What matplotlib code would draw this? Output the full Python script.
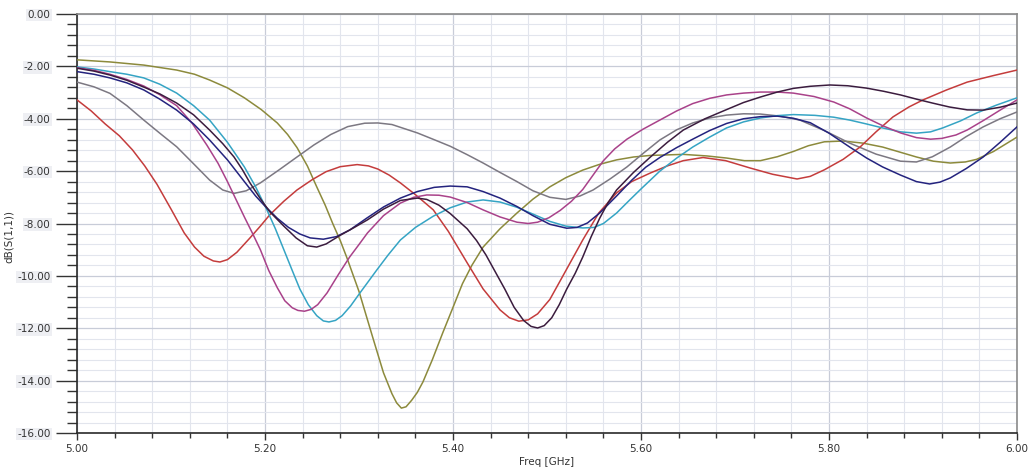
import numpy as np
import matplotlib
matplotlib.use("Agg")
import matplotlib.pyplot as plt
from matplotlib.ticker import MultipleLocator, FormatStrFormatter

plt.rcParams['font.family'] = ['DejaVu Sans']
plt.rcParams['axes.unicode_minus'] = False

# S11 sweeps, frequency in GHz, return loss in dB
red_f = [5.000, 5.015, 5.030, 5.045, 5.059, 5.072, 5.085, 5.100, 5.114, 5.125, 5.135, 5.145, 5.152,
         5.160, 5.170, 5.184, 5.195, 5.205, 5.220, 5.234, 5.250, 5.265, 5.280, 5.298, 5.310, 5.320,
         5.332, 5.344, 5.360, 5.379, 5.395, 5.415, 5.432, 5.450, 5.460, 5.470, 5.480, 5.490, 5.503,
         5.520, 5.538, 5.555, 5.574, 5.590, 5.610, 5.628, 5.645, 5.666, 5.690, 5.716, 5.740, 5.766,
         5.780, 5.795, 5.815, 5.833, 5.850, 5.868, 5.885, 5.900, 5.925, 5.947, 5.975, 6.000]
red_db = [-3.28, -3.7, -4.2, -4.65, -5.19, -5.8, -6.5, -7.45, -8.36, -8.9, -9.25, -9.43, -9.47,
          -9.38, -9.1, -8.55, -8.1, -7.67, -7.15, -6.72, -6.33, -6.02, -5.83, -5.75, -5.8, -5.92,
          -6.15, -6.45, -6.9, -7.48, -8.3, -9.5, -10.5, -11.3, -11.6, -11.73, -11.68, -11.45, -10.9,
          -9.8, -8.63, -7.6, -6.83, -6.4, -6.07, -5.8, -5.6, -5.48, -5.6, -5.88, -6.12, -6.3,
          -6.2, -5.95, -5.55, -5.08, -4.5, -3.93, -3.55, -3.28, -2.9, -2.6, -2.35, -2.14]

gray_f = [5.000, 5.018, 5.035, 5.053, 5.071, 5.088, 5.106, 5.124, 5.141, 5.155, 5.167, 5.180, 5.195,
          5.215, 5.234, 5.252, 5.270, 5.288, 5.306, 5.320, 5.335, 5.362, 5.380, 5.397, 5.415, 5.432,
          5.450, 5.468, 5.485, 5.503, 5.520, 5.535, 5.549, 5.567, 5.585, 5.603, 5.620, 5.638, 5.655,
          5.673, 5.691, 5.709, 5.727, 5.748, 5.769, 5.795, 5.822, 5.850, 5.876, 5.893, 5.910, 5.929,
          5.946, 5.964, 5.982, 6.000]
gray_db = [-2.6, -2.78, -3.03, -3.5, -4.05, -4.55, -5.07, -5.72, -6.34, -6.72, -6.85, -6.75, -6.45,
           -5.95, -5.46, -5.0, -4.6, -4.3, -4.17, -4.16, -4.22, -4.54, -4.8, -5.05, -5.37, -5.69,
           -6.05, -6.4, -6.75, -7.0, -7.08, -6.95, -6.72, -6.3, -5.84, -5.3, -4.81, -4.42, -4.16,
           -3.97, -3.86, -3.81, -3.82, -3.9, -4.05, -4.45, -4.93, -5.35, -5.62, -5.65, -5.45, -5.08,
           -4.68, -4.31, -4.0, -3.74]

olive_f = [5.000, 5.035, 5.071, 5.106, 5.125, 5.141, 5.160, 5.178, 5.196, 5.213, 5.224, 5.234, 5.245,
           5.255, 5.264, 5.272, 5.280, 5.287, 5.300, 5.315, 5.326, 5.335, 5.340, 5.345, 5.350, 5.356,
           5.362, 5.368, 5.378, 5.389, 5.400, 5.410, 5.420, 5.432, 5.450, 5.468, 5.485, 5.503, 5.520,
           5.538, 5.556, 5.574, 5.592, 5.610, 5.645, 5.670, 5.691, 5.710, 5.727, 5.745, 5.762, 5.778,
           5.795, 5.815, 5.836, 5.857, 5.875, 5.893, 5.911, 5.929, 5.945, 5.957, 5.975, 6.000]
olive_db = [-1.75, -1.83, -1.95, -2.14, -2.3, -2.52, -2.82, -3.2, -3.65, -4.16, -4.6, -5.1, -5.8,
            -6.6, -7.3, -8.0, -8.65, -9.3, -10.6, -12.4, -13.7, -14.5, -14.85, -15.05, -15.0, -14.75,
            -14.45, -14.05, -13.2, -12.18, -11.2, -10.3, -9.6, -8.9, -8.2, -7.6, -7.07, -6.6, -6.25,
            -5.96, -5.74, -5.57, -5.46, -5.4, -5.36, -5.42, -5.5, -5.6, -5.6, -5.45, -5.25, -5.03,
            -4.88, -4.85, -4.93, -5.08, -5.27, -5.46, -5.62, -5.69, -5.65, -5.55, -5.25, -4.7]

cyan_f = [5.000, 5.018, 5.035, 5.053, 5.071, 5.088, 5.106, 5.124, 5.141, 5.160, 5.178, 5.190, 5.202,
          5.211, 5.220, 5.229, 5.237, 5.246, 5.255, 5.262, 5.268, 5.275, 5.282, 5.291, 5.301, 5.319,
          5.331, 5.344, 5.360, 5.379, 5.397, 5.415, 5.432, 5.450, 5.468, 5.485, 5.503, 5.520, 5.538,
          5.550, 5.560, 5.574, 5.588, 5.600, 5.620, 5.638, 5.655, 5.673, 5.691, 5.709, 5.727, 5.745,
          5.762, 5.785, 5.805, 5.822, 5.840, 5.857, 5.876, 5.893, 5.908, 5.921, 5.940, 5.957, 5.978,
          6.000]
cyan_db = [-2.02, -2.1, -2.2, -2.3, -2.44, -2.68, -3.02, -3.5, -4.05, -4.9, -5.84, -6.6, -7.48,
           -8.2, -9.0, -9.8, -10.5, -11.1, -11.52, -11.72, -11.76, -11.7, -11.52, -11.15, -10.65, -9.77,
           -9.2, -8.63, -8.15, -7.72, -7.4, -7.18, -7.1, -7.18, -7.38, -7.64, -7.92, -8.1, -8.17,
           -8.15, -8.0, -7.6, -7.1, -6.68, -6.0, -5.5, -5.08, -4.7, -4.35, -4.12, -3.97, -3.88,
           -3.84, -3.87, -3.94, -4.05, -4.2, -4.35, -4.5, -4.55, -4.5, -4.35, -4.08, -3.78, -3.48,
           -3.2]

pink_f = [5.000, 5.018, 5.035, 5.053, 5.071, 5.088, 5.106, 5.122, 5.138, 5.150, 5.160, 5.170, 5.178,
          5.187, 5.195, 5.204, 5.213, 5.221, 5.229, 5.235, 5.242, 5.249, 5.256, 5.266, 5.278, 5.290,
          5.300, 5.309, 5.326, 5.344, 5.358, 5.372, 5.385, 5.397, 5.415, 5.432, 5.450, 5.468, 5.480,
          5.490, 5.502, 5.514, 5.526, 5.538, 5.549, 5.560, 5.572, 5.585, 5.602, 5.620, 5.638, 5.655,
          5.673, 5.691, 5.709, 5.727, 5.745, 5.762, 5.784, 5.805, 5.822, 5.840, 5.858, 5.876, 5.893,
          5.908, 5.920, 5.935, 5.947, 5.965, 5.982, 6.000]
pink_db = [-2.05, -2.15, -2.3, -2.5, -2.75, -3.08, -3.5, -4.15, -5.0, -5.7, -6.4, -7.15, -7.75,
           -8.4, -9.0, -9.8, -10.45, -10.95, -11.22, -11.32, -11.35, -11.28, -11.1, -10.65, -9.95, -9.28,
           -8.8, -8.36, -7.7, -7.22, -7.0, -6.91, -6.92, -6.99, -7.2, -7.48, -7.75, -7.95, -8.0,
           -7.95, -7.78, -7.5, -7.15, -6.7, -6.15, -5.6, -5.15, -4.78, -4.4, -4.05, -3.7, -3.42,
           -3.22, -3.09, -3.02, -2.98, -2.98, -3.02, -3.15, -3.36, -3.62, -3.97, -4.28, -4.54, -4.72,
           -4.78, -4.75, -4.62, -4.43, -4.05, -3.67, -3.28]

navy_f = [5.000, 5.018, 5.035, 5.053, 5.071, 5.088, 5.106, 5.124, 5.141, 5.160, 5.178, 5.190, 5.199,
          5.213, 5.225, 5.237, 5.248, 5.262, 5.276, 5.290, 5.308, 5.326, 5.344, 5.362, 5.380, 5.397,
          5.415, 5.432, 5.450, 5.468, 5.485, 5.503, 5.521, 5.532, 5.543, 5.556, 5.574, 5.590, 5.605,
          5.620, 5.638, 5.655, 5.673, 5.691, 5.709, 5.727, 5.745, 5.762, 5.780, 5.800, 5.822, 5.840,
          5.857, 5.876, 5.893, 5.907, 5.918, 5.929, 5.946, 5.964, 5.982, 6.000]
navy_db = [-2.2, -2.3, -2.44, -2.63, -2.9, -3.25, -3.67, -4.2, -4.81, -5.57, -6.4, -6.95, -7.3,
           -7.8, -8.15, -8.4, -8.55, -8.6, -8.5, -8.25, -7.8, -7.37, -7.03, -6.78, -6.62, -6.57,
           -6.6, -6.78, -7.03, -7.35, -7.7, -8.03, -8.18, -8.15, -7.98, -7.6, -6.95, -6.35, -5.85,
           -5.48, -5.1, -4.78, -4.45, -4.18, -4.0, -3.92, -3.9, -3.98, -4.15, -4.55, -5.08, -5.5,
           -5.84, -6.15, -6.4, -6.49, -6.42, -6.26, -5.9, -5.46, -4.9, -4.31]

dark_f = [5.000, 5.018, 5.035, 5.053, 5.071, 5.088, 5.106, 5.124, 5.141, 5.155, 5.167, 5.176, 5.184,
          5.195, 5.205, 5.220, 5.233, 5.245, 5.255, 5.265, 5.280, 5.295, 5.309, 5.326, 5.344, 5.362,
          5.372, 5.385, 5.397, 5.415, 5.425, 5.435, 5.445, 5.455, 5.465, 5.475, 5.483, 5.490, 5.497,
          5.505, 5.513, 5.521, 5.530, 5.538, 5.547, 5.556, 5.565, 5.574, 5.592, 5.610, 5.628, 5.645,
          5.668, 5.691, 5.709, 5.727, 5.745, 5.762, 5.780, 5.801, 5.820, 5.840, 5.858, 5.876, 5.893,
          5.910, 5.928, 5.947, 5.964, 5.982, 6.000]
dark_db = [-2.07, -2.18, -2.33, -2.53, -2.79, -3.05, -3.4, -3.85, -4.43, -4.95, -5.46, -5.95, -6.45,
           -7.05, -7.55, -8.1, -8.55, -8.85, -8.9, -8.78, -8.45, -8.15, -7.86, -7.45, -7.12, -7.03,
           -7.08, -7.3, -7.62, -8.2, -8.65, -9.2, -9.85, -10.5, -11.2, -11.7, -11.93, -11.99, -11.9,
           -11.6, -11.1, -10.5, -9.9, -9.28, -8.5, -7.8, -7.2, -6.72, -6.05, -5.46, -4.9, -4.43,
           -4.0, -3.65, -3.38, -3.17, -2.98, -2.84, -2.76, -2.71, -2.74, -2.83, -2.95, -3.09, -3.25,
           -3.4, -3.55, -3.66, -3.67, -3.56, -3.4]

curves = [
    (olive_f, olive_db, '#8c8a3c'),
    (gray_f, gray_db, '#7c7882'),
    (red_f, red_db, '#c43c3c'),
    (cyan_f, cyan_db, '#35a4c4'),
    (pink_f, pink_db, '#a9428a'),
    (navy_f, navy_db, '#24237e'),
    (dark_f, dark_db, '#3b1c3e'),
]

fig = plt.figure(figsize=(10.30, 4.69), dpi=100)
ax = fig.add_axes([0.0748, 0.0768, 0.9126, 0.8933])

for f, db, c in curves:
    ax.plot(f, db, color=c, lw=1.1, zorder=3, solid_joinstyle='round')

ax.set_xlim(5.0, 6.0)
ax.set_ylim(-16, 0)

ax.xaxis.set_major_locator(MultipleLocator(0.2))
ax.xaxis.set_minor_locator(MultipleLocator(0.04))
ax.yaxis.set_major_locator(MultipleLocator(2))
ax.yaxis.set_minor_locator(MultipleLocator(0.4))
ax.xaxis.set_major_formatter(FormatStrFormatter('%.2f'))
ax.yaxis.set_major_formatter(FormatStrFormatter('%.2f'))

ax.grid(which='minor', color='#e2e5ed', lw=0.8, zorder=0)
ax.grid(which='major', color='#c8ccd8', lw=0.9, zorder=0)
ax.set_axisbelow(True)

ax.tick_params(axis='y', which='major', length=15, width=1.0, color='#333333',
               labelsize=7.5, pad=4, labelcolor='#333333')
ax.tick_params(axis='y', which='minor', length=7, width=1.0, color='#333333')
ax.tick_params(axis='x', which='major', length=5, width=1.0, color='#333333',
               labelsize=7.5, pad=3, labelcolor='#333333')
ax.tick_params(axis='x', which='minor', length=3.5, width=1.0, color='#333333')

for lab in ax.get_yticklabels():
    lab.set_bbox(dict(facecolor='#eeeff3', edgecolor='none', pad=1.0))

for side in ('left', 'bottom'):
    ax.spines[side].set_color('#2a2a2a')
    ax.spines[side].set_linewidth(1.2)
for side in ('top', 'right'):
    ax.spines[side].set_color('#8a8a8a')
    ax.spines[side].set_linewidth(1.2)

ax.set_xlabel('Freq [GHz]', fontsize=7.5, color='#333333', labelpad=2)
ax.set_ylabel('dB(S(1,1))', fontsize=7.5, color='#333333')
ax.yaxis.set_label_coords(-0.067, 0.47)

fig.savefig('out.png', dpi=100, facecolor='white')
